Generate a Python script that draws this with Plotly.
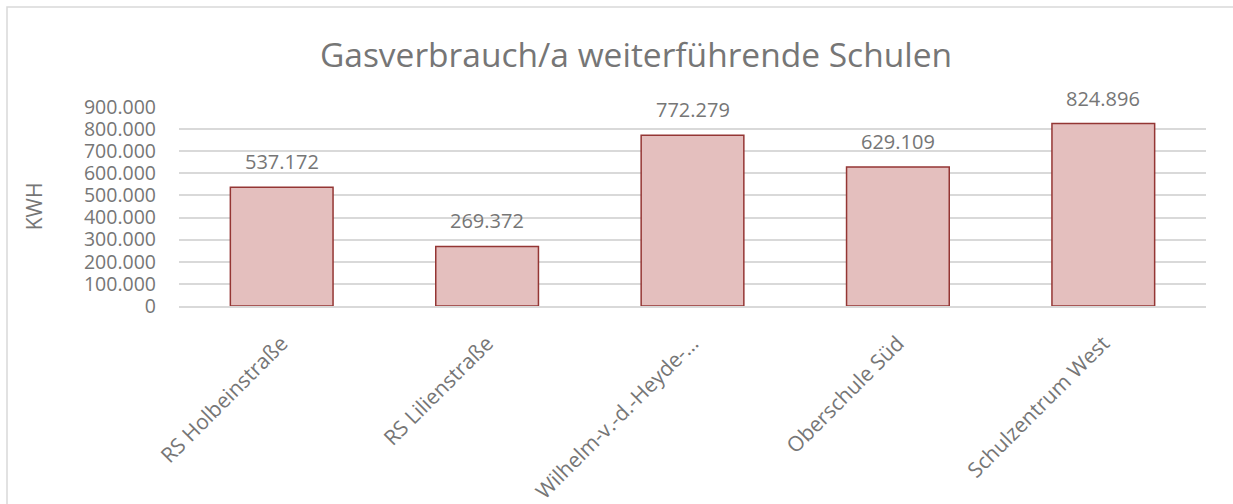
import plotly.graph_objects as go

categories = ["RS Holbeinstraße", "RS Lilienstraße", "Wilhelm-v.-d.-Heyde-…", "Oberschule Süd", "Schulzentrum West"]
values = [537172, 269372, 772279, 629109, 824896]
y_ticks = [0, 100000, 200000, 300000, 400000, 500000, 600000, 700000, 800000, 900000]

FONT = "Open Sans"
GREY = "#767676"

fig = go.Figure()
fig.add_trace(go.Bar(
    x=categories, y=values,
    marker=dict(color="#e4bfbe", line=dict(color="#943634", width=1.5)),
    width=0.5,
))
for c, v in zip(categories, values):
    fig.add_annotation(x=c, y=v, text=f"{v:,}".replace(",", "."), showarrow=False,
                       yanchor="bottom", yshift=10, font=dict(family=FONT, size=20, color=GREY))

fig.update_layout(
    width=1233, height=504,
    margin=dict(l=179, r=27, t=107, b=198),
    paper_bgcolor="white", plot_bgcolor="white",
    separators=",.",
    showlegend=False,
    title=dict(text="Gasverbrauch/a weiterführende Schulen", x=636 / 1233, xanchor="center",
               y=1 - 55 / 504, yanchor="middle", font=dict(family=FONT, size=33.5, color=GREY)),
    font=dict(family=FONT, color=GREY),
    xaxis=dict(tickangle=-45, tickfont=dict(family=FONT, size=21, color=GREY),
               showline=True, linecolor="#d9d9d9", linewidth=1.5, ticks="", automargin=False,
               ticklabelstandoff=15),
    yaxis=dict(range=[0, 900000], tickvals=y_ticks, tickformat=",d",
               tickfont=dict(family=FONT, size=19.5, color=GREY),
               showgrid=True, gridcolor="#d9d9d9", gridwidth=1.5, zeroline=False,
               ticklabelstandoff=22, automargin=False,
               title=dict(text="KWH", font=dict(family=FONT, size=21, color=GREY), standoff=35)),
    shapes=[dict(type="rect", xref="paper", yref="paper",
                 x0=-(179 - 7) / 1027, x1=(1233 - 179 + 5) / 1027,
                 y0=-(504 - 306 + 10) / 199, y1=(306 - 7) / 199,
                 line=dict(color="#d9d9d9", width=1.5), layer="below")],
)
fig.write_html("out.html", config={"displayModeBar": False},
               post_script="document.body.style.margin='0';document.body.style.overflow='hidden';")
